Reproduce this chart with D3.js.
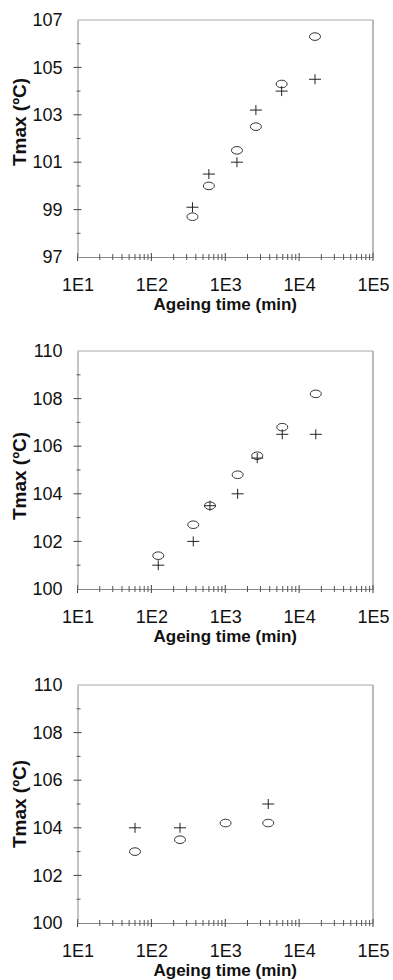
<!DOCTYPE html>
<html>
<head>
<meta charset="utf-8">
<script src="https://cdn.jsdelivr.net/npm/d3@7"></script>
<style>
  html, body { margin: 0; padding: 0; background: #fff; }
  svg { display: block; }
  text { font-family: "Liberation Sans", Arial, sans-serif; fill: #111; }
</style>
</head>
<body>
<svg id="chart" width="393" height="980"></svg>
<script>
// ---- Data ----
const xTickLabels = ["1E1", "1E2", "1E3", "1E4", "1E5"];
const xTickValues = [10, 100, 1000, 10000, 100000];

// Panel 1
const p1Time    = [360, 600, 1440, 2600, 5800, 16400];
const p1Circles = [98.7, 100.0, 101.5, 102.5, 104.3, 106.3];
const p1Pluses  = [99.1, 100.5, 101.0, 103.2, 104.0, 104.5];
const p1YTicks  = [97, 99, 101, 103, 105, 107];

// Panel 2
const p2Time    = [124, 369, 621, 1472, 2710, 5910, 16800];
const p2Circles = [101.4, 102.7, 103.5, 104.8, 105.6, 106.8, 108.2];
const p2Pluses  = [101.0, 102.0, 103.5, 104.0, 105.5, 106.5, 106.5];
const p2YTicks  = [100, 102, 104, 106, 108, 110];

// Panel 3
const p3Time    = [60, 244, 1010, 3820];
const p3Circles = [103.0, 103.5, 104.2, 104.2];
const p3Pluses  = [104.0, 104.0, null, 105.0];
const p3YTicks  = [100, 102, 104, 106, 108, 110];

const xTitle = "Ageing time (min)";
const yTitle = "Tmax (ºC)";

// ---- Layout ----
const panels = [
  { time: p1Time, circles: p1Circles, pluses: p1Pluses, yTicks: p1YTicks, top: 20,  bottom: 257, yTitleC: 122 },
  { time: p2Time, circles: p2Circles, pluses: p2Pluses, yTicks: p2YTicks, top: 351, bottom: 589, yTitleC: 476 },
  { time: p3Time, circles: p3Circles, pluses: p3Pluses, yTicks: p3YTicks, top: 685, bottom: 923, yTitleC: 804 }
];
const left = 77.5, right = 373;

const svg = d3.select("#chart");

panels.forEach(p => {
  const x = d3.scaleLog().domain([10, 100000]).range([left, right]);
  const yMin = p.yTicks[0], yMax = p.yTicks[p.yTicks.length - 1];
  const y = d3.scaleLinear().domain([yMin, yMax]).range([p.bottom, p.top]);
  const g = svg.append("g");

  // frame: top and right
  g.append("line").attr("x1", left).attr("x2", right).attr("y1", p.top).attr("y2", p.top)
    .attr("stroke", "#a8a8a8").attr("stroke-width", 1);
  g.append("line").attr("x1", right).attr("x2", right).attr("y1", p.top).attr("y2", p.bottom)
    .attr("stroke", "#777").attr("stroke-width", 1);

  // x axis (labels via d3 axis, crossing tick marks drawn through the scale)
  const xAxis = d3.axisBottom(x).tickValues(xTickValues)
    .tickFormat((d, i) => xTickLabels[i]).tickSize(0).tickPadding(21);
  const xg = g.append("g").attr("transform", `translate(0,${p.bottom})`).call(xAxis);
  xg.select(".domain").attr("stroke", "#888");
  xg.selectAll("text").style("font-size", "18px").style("font-family", "Liberation Sans, Arial, sans-serif").attr("fill", "#111");

  const minorX = [];
  for (let e = 1; e < 5; e++) for (let m = 2; m <= 9; m++) minorX.push(m * Math.pow(10, e));
  g.selectAll(".xminor").data(minorX).enter().append("line")
    .attr("x1", d => x(d)).attr("x2", d => x(d))
    .attr("y1", p.bottom - 3).attr("y2", p.bottom + 3)
    .attr("stroke", "#555").attr("stroke-width", 1);
  g.selectAll(".xmajor").data(xTickValues).enter().append("line")
    .attr("x1", d => x(d)).attr("x2", d => x(d))
    .attr("y1", p.bottom - 4).attr("y2", p.bottom + 4)
    .attr("stroke", "#444").attr("stroke-width", 1);

  // y axis
  const yAxis = d3.axisLeft(y).tickValues(p.yTicks).tickFormat(d3.format("d"))
    .tickSize(0).tickPadding(15);
  const yg = g.append("g").attr("transform", `translate(${left},0)`).call(yAxis);
  yg.select(".domain").attr("stroke", "#888");
  yg.selectAll("text").style("font-size", "18px").style("font-family", "Liberation Sans, Arial, sans-serif").attr("fill", "#111");

  const minorY = d3.range(yMin + 1, yMax, 2);
  g.selectAll(".yminor").data(minorY).enter().append("line")
    .attr("x1", left - 1).attr("x2", left + 3)
    .attr("y1", d => y(d)).attr("y2", d => y(d))
    .attr("stroke", "#555").attr("stroke-width", 1);
  g.selectAll(".ymajor").data(p.yTicks.slice(1, -1)).enter().append("line")
    .attr("x1", left - 4).attr("x2", left + 4)
    .attr("y1", d => y(d)).attr("y2", d => y(d))
    .attr("stroke", "#444").attr("stroke-width", 1);

  // titles
  g.append("text").attr("x", (left + right) / 2).attr("y", p.bottom + 53)
    .attr("text-anchor", "middle").style("font-size", "17px").style("font-weight", "bold")
    .text(xTitle);
  g.append("text")
    .attr("transform", `translate(26,${p.yTitleC}) rotate(-90)`)
    .attr("text-anchor", "middle").style("font-size", "19px").style("font-weight", "bold")
    .text(yTitle);

  // circles
  const circData = p.time.map((t, i) => ({ t, v: p.circles[i] })).filter(d => d.v != null);
  g.selectAll(".circ").data(circData).enter().append("ellipse")
    .attr("cx", d => x(d.t)).attr("cy", d => y(d.v))
    .attr("rx", 5.5).attr("ry", 3.8)
    .attr("fill", "none").attr("stroke", "#333").attr("stroke-width", 1);

  // pluses
  const plusData = p.time.map((t, i) => ({ t, v: p.pluses[i] })).filter(d => d.v != null);
  const pl = g.selectAll(".plus").data(plusData).enter().append("g")
    .attr("transform", d => `translate(${x(d.t)},${y(d.v)})`);
  pl.append("line").attr("x1", -6).attr("x2", 6).attr("y1", 0).attr("y2", 0)
    .attr("stroke", "#222").attr("stroke-width", 1);
  pl.append("line").attr("x1", 0).attr("x2", 0).attr("y1", -5).attr("y2", 5)
    .attr("stroke", "#222").attr("stroke-width", 1);
});
</script>
</body>
</html>
